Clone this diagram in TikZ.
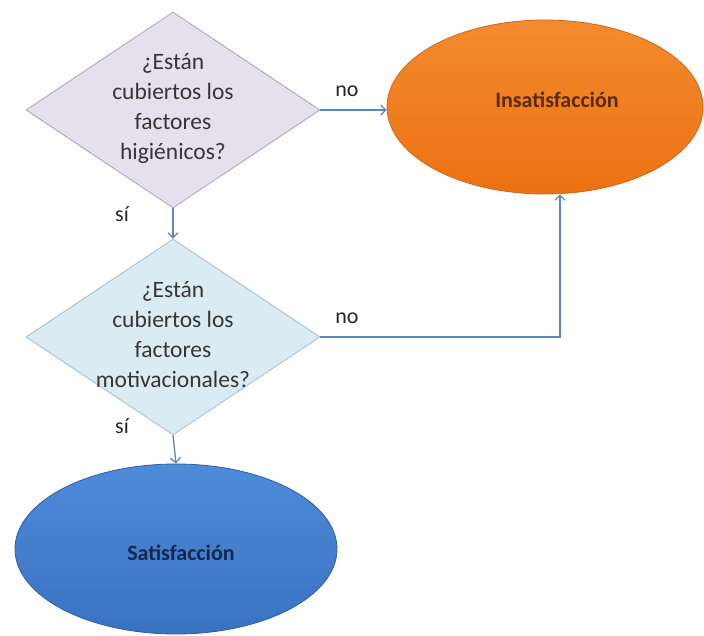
\documentclass[tikz,border=0pt]{standalone}
\usepackage{fontspec}
\setmainfont{Carlito}
\usetikzlibrary{shapes.geometric,arrows.meta}
\definecolor{lav}{HTML}{E5E0EC}
\definecolor{lavb}{HTML}{A9A4BC}
\definecolor{ltb}{HTML}{DBEBF3}
\definecolor{ltbb}{HTML}{A3BDCD}
\definecolor{arr}{HTML}{5B86BE}
\definecolor{orgtop}{HTML}{F38B2E}
\definecolor{orgbot}{HTML}{EC7212}
\definecolor{orgb}{HTML}{D0661A}
\definecolor{blutop}{HTML}{4E8BD8}
\definecolor{blubot}{HTML}{3A72C2}
\definecolor{blub}{HTML}{2F5F9E}
\definecolor{txt}{HTML}{363636}
\definecolor{brn}{HTML}{5A2A08}
\definecolor{navy}{HTML}{14284E}
\tikzset{
  decision/.style={diamond, draw=#1, line width=0.8pt, inner sep=0pt, minimum width=294pt, minimum height=196pt},
  qtext/.style={align=center, font=\fontsize{23.5}{30}\selectfont, text=txt},
  outcome/.style={ellipse, line width=0.8pt, minimum width=#1},
  conn/.style={draw=arr, line width=1.3pt, -{Straight Barb[length=5pt,width=10pt,line width=1.2pt]}},
  lbl/.style={font=\fontsize{22}{25}\selectfont, text=black!85},
}
\begin{document}
\begin{tikzpicture}[x=1pt,y=-1pt]
\useasboundingbox (0,0) rectangle (704,636);
\fill[white] (0,0) rectangle (704,636);
% decisions
\node[decision=lavb, fill=lav] (d1) at (173,110) {};
\node[qtext] (t1) at (173,108) {¿Están\\cubiertos los\\factores\\higiénicos?};
\node[decision=ltbb, fill=ltb] (d2) at (173,337) {};
\node[qtext] (t2) at (173,335) {¿Están\\cubiertos los\\factores\\motivacionales?};
% outcomes
\node[outcome=316pt, minimum height=174pt, draw=orgb, top color=orgtop, bottom color=orgbot] (ins) at (545,107) {};
\node[font=\bfseries\fontsize{22}{25}\selectfont, text=brn] (inst) at (557,100) {Insatisfacción};
\node[outcome=322pt, minimum height=170pt, draw=blub, top color=blutop, bottom color=blubot] (sat) at (176,549) {};
\node[font=\bfseries\fontsize{22}{25}\selectfont, text=navy] (satt) at (181,553) {Satisfacción};
% connectors
\draw[conn] (d1.south) -- (d2.north);
\draw[conn] (d2.south) -- (sat.north);
\draw[conn] (d1.east) -- (ins.west |- d1.east);
\coordinate (corner) at (560,337);
\draw[conn] (d2.east) -- (corner) -- (ins.south -| corner);
% labels
\node[lbl] (s1) at (122,214) {sí};
\node[lbl] (s2) at (122,426) {sí};
\node[lbl] (n1) at (347,91) {no};
\node[lbl] (n2) at (347,318) {no};
\end{tikzpicture}
\end{document}
